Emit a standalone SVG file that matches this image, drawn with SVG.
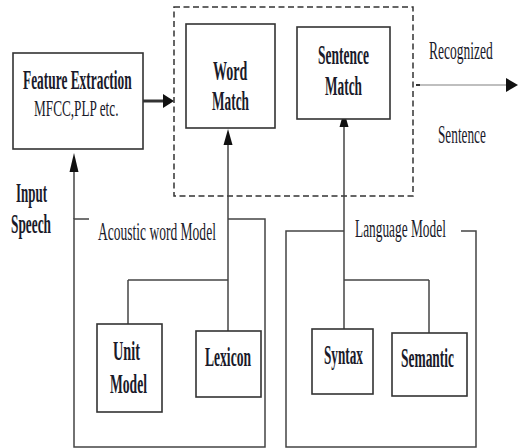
<svg xmlns="http://www.w3.org/2000/svg" width="518" height="448" viewBox="0 0 518 448">
<style>
.box{fill:#fff;stroke:#333;stroke-width:1.6}
.grp{fill:none;stroke:#444;stroke-width:1.5}
.ln{fill:none;stroke:#444;stroke-width:1.5}
.head{fill:#111}
.tb{font-family:"Liberation Serif",serif;font-weight:bold;font-size:27px;fill:#1a1a2a}
.tr{font-family:"Liberation Serif",serif;font-size:26px;fill:#1a1a2a}
</style>
<rect width="518" height="448" fill="#fff"/>
<g id="connectors">
  <path class="grp" d="M89,219 H74 V447 H265 V219 H228"/>
  <path class="grp" d="M344,231 H286 V447 H476 V231 H461"/>
  <rect x="174" y="7" width="239" height="189" fill="none" stroke="#333" stroke-width="1.5" stroke-dasharray="6,3.5"/>
  <line x1="143" y1="101" x2="164" y2="101" stroke="#333" stroke-width="3"/>
  <polygon class="head" points="163,94 174,101 163,108"/>
  <line class="ln" x1="74" y1="170" x2="74" y2="219"/>
  <polygon class="head" points="74,153 78.5,172 69.5,172"/>
  <line class="ln" x1="228" y1="140" x2="228" y2="331"/>
  <polygon class="head" points="228,129 232.5,145 223.5,145"/>
  <line class="ln" x1="344" y1="125" x2="344" y2="329"/>
  <polygon class="head" points="344,111 348.5,127 339.5,127"/>
  <line class="ln" x1="128" y1="280" x2="228" y2="280"/>
  <line class="ln" x1="128" y1="280" x2="128" y2="324"/>
  <line class="ln" x1="344" y1="280" x2="429" y2="280"/>
  <line class="ln" x1="429" y1="280" x2="429" y2="333"/>
  <line x1="416" y1="85" x2="508" y2="85" stroke="#aaa" stroke-width="1.5"/>
  <line x1="416" y1="85" x2="420" y2="85" stroke="#333" stroke-width="2"/>
  <polygon class="head" points="506,78 518,85 506,92"/>
</g>
<g id="feature">
  <rect class="box" x="13" y="53" width="130" height="96"/>
  <text class="tb" transform="translate(23,89) scale(0.496,1)">Feature Extraction</text>
  <text class="tr" style="font-size:23px" transform="translate(34,116) scale(0.576,1)">MFCC,PLP etc.</text>
</g>
<g id="word">
  <rect class="box" x="186" y="24" width="89" height="104"/>
  <text class="tb" transform="translate(213,80) scale(0.519,1)">Word</text>
  <text class="tb" transform="translate(212,110) scale(0.493,1)">Match</text>
</g>
<g id="sentence">
  <rect class="box" x="297" y="27" width="93" height="92"/>
  <text class="tb" transform="translate(318,64) scale(0.5,1)">Sentence</text>
  <text class="tb" transform="translate(325,95) scale(0.493,1)">Match</text>
</g>
<g id="output-label">
  <text class="tr" transform="translate(429,59) scale(0.52,1)">Recognized</text>
  <text class="tr" transform="translate(438,143) scale(0.51,1)">Sentence</text>
</g>
<g id="input-label">
  <text class="tb" transform="translate(16,202) scale(0.48,1)">Input</text>
  <text class="tb" transform="translate(11,233) scale(0.494,1)">Speech</text>
</g>
<g id="acoustic">
  <text class="tr" transform="translate(98,240) scale(0.52,1)">Acoustic word Model</text>
</g>
<g id="language">
  <text class="tr" transform="translate(355,237) scale(0.514,1)">Language Model</text>
</g>
<g id="unit">
  <rect class="box" x="97" y="324" width="65" height="88"/>
  <text class="tb" transform="translate(113,360) scale(0.53,1)">Unit</text>
  <text class="tb" transform="translate(110,393) scale(0.503,1)">Model</text>
</g>
<g id="lexicon">
  <rect class="box" x="196" y="331" width="65" height="66"/>
  <text class="tb" transform="translate(205,366) scale(0.503,1)">Lexicon</text>
</g>
<g id="syntax">
  <rect class="box" x="312" y="329" width="61" height="65"/>
  <text class="tb" transform="translate(324,364) scale(0.49,1)">Syntax</text>
</g>
<g id="semantic">
  <rect class="box" x="392" y="333" width="75" height="63"/>
  <text class="tb" transform="translate(401,367) scale(0.498,1)">Semantic</text>
</g>
</svg>
